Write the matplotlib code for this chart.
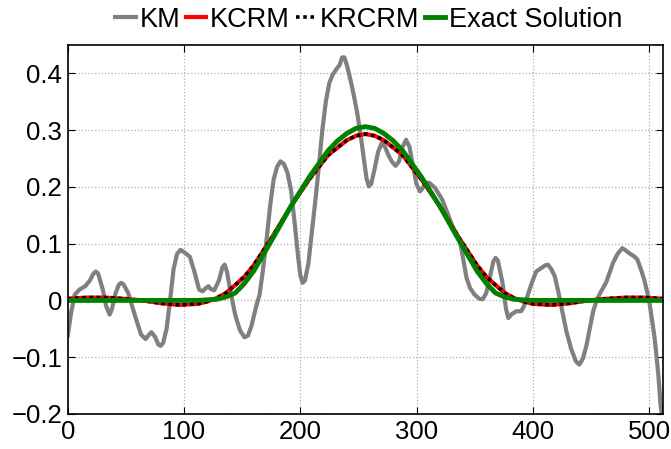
import matplotlib
matplotlib.use('Agg')
from matplotlib import pyplot as plt
from matplotlib.ticker import FuncFormatter

# KM curve
km_x = [0, 3, 6, 10, 15, 19, 22, 24, 26, 30, 33, 36, 38, 41, 44, 46, 48, 52, 58, 63,
        67, 70, 72, 75, 78, 80, 82, 85, 88, 91, 94, 97, 100, 105, 109, 113, 116, 119,
        121, 123, 126, 130, 133, 135, 137, 140, 144, 148, 152, 155, 158, 162, 165, 168,
        171, 174, 177, 180, 183, 186, 189, 192, 195, 198, 200, 202, 204, 207, 210, 214,
        219, 222, 225, 228, 231, 234, 236, 238, 240, 243, 246, 249, 252, 255, 257, 259,
        261, 264, 267, 270, 273, 276, 279, 282, 285, 288, 291, 294, 297, 300, 303, 305,
        308, 311, 316, 322, 327, 331, 337, 340, 343, 346, 350, 354, 357, 360, 363, 366,
        368, 370, 374, 377, 379, 382, 386, 390, 392, 395, 399, 403, 408, 411, 413, 416,
        419, 422, 425, 429, 433, 437, 440, 443, 446, 449, 452, 455, 458, 463, 466, 469,
        473, 477, 480, 483, 487, 490, 493, 496, 500, 503, 505, 508, 510, 512]
km_y = [-0.062, -0.020, 0.010, 0.019, 0.025, 0.035, 0.047, 0.051, 0.048, 0.020, -0.010,
        -0.025, -0.015, 0.012, 0.028, 0.031, 0.028, 0.013, -0.028, -0.060,
        -0.068, -0.060, -0.056, -0.064, -0.078, -0.080, -0.075, -0.050, 0.000, 0.055,
        0.082, 0.089, 0.085, 0.077, 0.050, 0.019, 0.016, 0.022,
        0.025, 0.020, 0.018, 0.035, 0.058, 0.063, 0.050, 0.015, -0.025, -0.052, -0.065,
        -0.062, -0.045, -0.011, 0.010, 0.055,
        0.107, 0.165, 0.212, 0.235, 0.245, 0.240, 0.225, 0.195, 0.140, 0.080, 0.045,
        0.031, 0.035, 0.065, 0.120, 0.195,
        0.300, 0.350, 0.383, 0.398, 0.407, 0.415, 0.428, 0.428, 0.415, 0.390, 0.362,
        0.330, 0.290, 0.245, 0.215, 0.201,
        0.205, 0.232, 0.262, 0.277, 0.270, 0.255, 0.244, 0.237, 0.245, 0.270, 0.283,
        0.270, 0.236, 0.205, 0.192, 0.197,
        0.207, 0.207, 0.198, 0.178, 0.152, 0.130, 0.107, 0.075, 0.040, 0.022, 0.010,
        0.003, 0.002, 0.013, 0.040, 0.068,
        0.075, 0.070, 0.031, -0.015, -0.031, -0.024, -0.019, -0.019, -0.012, 0.005,
        0.030, 0.051, 0.058, 0.062, 0.063, 0.055,
        0.042, 0.015, -0.015, -0.055, -0.085, -0.107, -0.113, -0.103, -0.081, -0.050,
        -0.019, 0.000, 0.013, 0.031, 0.048, 0.066,
        0.082, 0.092, 0.088, 0.083, 0.078, 0.072, 0.055, 0.036, 0.001, -0.040, -0.069,
        -0.130, -0.185, -0.215]

# KCRM / KRCRM (the two overlap)
rm_x = [0, 16, 32, 48, 64, 80, 96, 112, 120, 128, 136, 144, 152, 160, 176, 192, 208, 224,
        240, 248, 256, 264, 272, 288, 304, 320, 336, 352, 360, 368, 376, 384, 392, 400,
        416, 432, 448, 464, 480, 496, 512]
kcrm_y = [0.003, 0.005, 0.005, 0.003, 0.000, -0.005, -0.008, -0.006, -0.002, 0.004, 0.013,
          0.027, 0.042, 0.062, 0.112, 0.166, 0.214, 0.256, 0.282, 0.290, 0.293, 0.290, 0.282,
          0.256, 0.214, 0.166, 0.112, 0.062, 0.042, 0.027, 0.013, 0.004, -0.002, -0.006,
          -0.008, -0.005, 0.000, 0.003, 0.005, 0.005, 0.003]
krcrm_y = list(kcrm_y)

# exact solution
ex_x = [0, 32, 64, 96, 112, 128, 136, 144, 152, 160, 176, 192, 208, 224, 232, 240, 248,
        256, 264, 272, 280, 288, 304, 320, 336, 352, 360, 368, 376, 384, 400, 416, 448,
        480, 512]
ex_y = [0, 0, 0, 0, 0, 0.002, 0.006, 0.013, 0.030, 0.052, 0.108, 0.166, 0.218, 0.264, 0.281,
        0.294, 0.303, 0.306, 0.303, 0.294, 0.281, 0.264, 0.218, 0.166, 0.108, 0.052, 0.030,
        0.013, 0.006, 0.002, 0, 0, 0, 0, 0]

plt.rcParams['font.family'] = ['Liberation Sans', 'DejaVu Sans']

fig = plt.figure(figsize=(6.71, 4.49), dpi=100)
ax = fig.add_axes([0.101, 0.078, 0.887, 0.822])

ax.plot(km_x, km_y, color='#808080', lw=3, label='KM')
ax.plot(rm_x, kcrm_y, color='#ff0000', lw=3, label='KCRM')
ax.plot(rm_x, krcrm_y, color='black', lw=2.6, linestyle=(0, (1, 1)), label='KRCRM')
ax.plot(ex_x, ex_y, color='#008000', lw=3.5, label='Exact Solution')

ax.set_xlim(0, 512)
ax.set_ylim(-0.2, 0.45)
ax.set_xticks([0, 100, 200, 300, 400, 500])
ax.set_yticks([-0.2, -0.1, 0, 0.1, 0.2, 0.3, 0.4])
ax.yaxis.set_major_formatter(FuncFormatter(lambda v, p: ('%g' % round(v, 2)).replace('-', '\u2212')))
ax.tick_params(direction='in', top=True, right=True, labelsize=18.5, length=5, pad=4)
ax.grid(True, linestyle=':', color='#b0b0b0', lw=0.9)
for s in ax.spines.values():
    s.set_linewidth(1.2)

ax.legend(loc='lower center', bbox_to_anchor=(0.506, 1.0), ncol=4, frameon=False,
          fontsize=19.5, handlelength=0.75, handletextpad=0.15, columnspacing=0.2,
          borderaxespad=0.05)

plt.savefig('out.png')
